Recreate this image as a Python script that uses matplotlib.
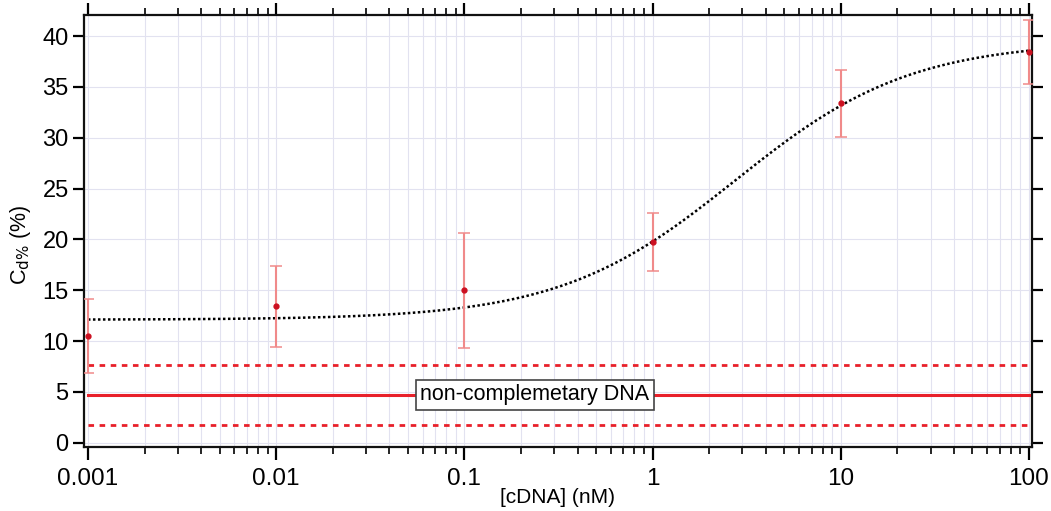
import numpy as np
import matplotlib.pyplot as plt

plt.rcParams['font.family'] = ['Liberation Sans', 'DejaVu Sans']

# measured Cd% versus target concentration
conc = [0.001, 0.01, 0.1, 1, 10, 100]
cd = [10.5, 13.4, 15.0, 19.7, 33.4, 38.45]
cd_err = [3.65, 3.95, 5.65, 2.85, 3.3, 3.15]
tick_labels = ['0.001', '0.01', '0.1', '1', '10', '100']

# Hill fit parameters (bottom, top, EC50 in nM, slope)
fit_bottom = 12.1
fit_top = 39.5
fit_ec50 = 2.75
fit_n = 0.93

# non-complementary control: mean and +/- spread
ctrl_mean = 4.7
ctrl_hi = 7.65
ctrl_lo = 1.75
ctrl_label = 'non-complemetary DNA'

fig = plt.figure(figsize=(10.51, 5.11), dpi=100)
ax = fig.add_axes([84/1051, 1 - 447/511, (1032 - 84)/1051, (447 - 15)/511])

xs = np.logspace(-3, 2, 400)
fit = fit_bottom + (fit_top - fit_bottom) / (1 + (fit_ec50 / xs) ** fit_n)
ax.plot(xs, fit, color='black', linestyle=(0, (1, 1)), linewidth=1.8, zorder=3)

red = '#e8202a'
ax.plot([conc[0], conc[-1]], [ctrl_mean] * 2, color=red, linewidth=2.2, zorder=3)
ax.plot([conc[0], conc[-1]], [ctrl_hi] * 2, color=red, linewidth=2, linestyle=(0, (2, 2)), zorder=3)
ax.plot([conc[0], conc[-1]], [ctrl_lo] * 2, color=red, linewidth=2, linestyle=(0, (2, 2)), zorder=3)

ax.errorbar(conc, cd, yerr=cd_err, fmt='o', color='#cc1020', markersize=3.5,
            ecolor='#f08a8a', elinewidth=1.5, capsize=4.5, capthick=1.1, zorder=4)

ax.text(0.237, ctrl_mean, ctrl_label, fontsize=15.5, ha='center', va='center',
        bbox=dict(boxstyle='square,pad=0.2', facecolor='white', edgecolor='#444444', linewidth=1.2),
        zorder=5)

ax.set_xscale('log')
ax.set_xlim(10 ** (-3.021), 10 ** 2.016)
ax.set_ylim(-0.42, 42.07)
ax.set_xticks(conc)
ax.set_xticklabels(tick_labels)
ax.set_yticks(np.arange(0, 41, 5))

ax.grid(True, which='both', axis='x', color='#e2e2f0', linewidth=0.8)
ax.grid(True, which='major', axis='y', color='#e2e2f0', linewidth=0.8)
ax.set_axisbelow(True)

for s in ax.spines.values():
    s.set_linewidth(1.6)
    s.set_color('#111111')

ax.tick_params(axis='x', which='major', direction='out', length=9, width=1.6,
               top=True, labelsize=17.5, pad=6)
ax.tick_params(axis='x', which='minor', direction='out', length=5, width=1.2, top=True)
ax.tick_params(axis='y', which='major', direction='out', length=8, width=1.6,
               right=True, labelsize=17, pad=3)

ax.set_xlabel('[cDNA] (nM)', fontsize=15)
ax.xaxis.set_label_coords(0.5, -0.095)
ax.set_ylabel(r'C$_{\mathrm{d\%}}$ (%)', fontsize=15.5)
ax.yaxis.set_label_coords(-0.054, 0.467)

fig.savefig('out.png', dpi=100)
